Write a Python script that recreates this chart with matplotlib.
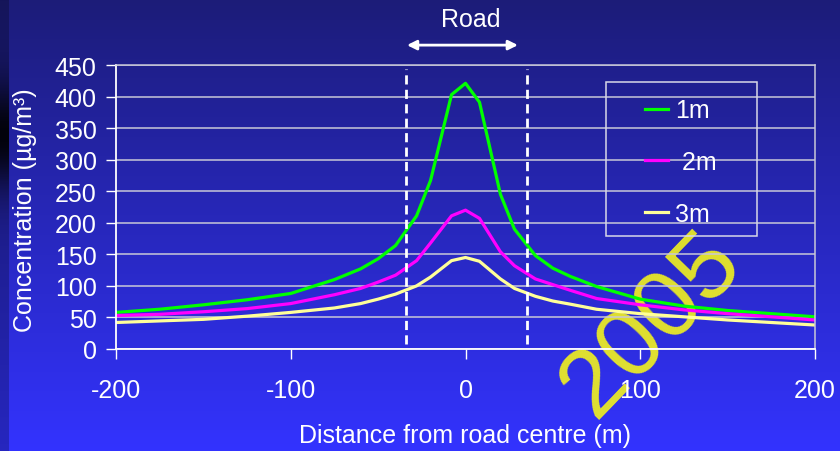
import numpy as np
import matplotlib.pyplot as plt
from matplotlib.patches import Rectangle

plt.rcParams["font.family"] = ["Liberation Sans", "DejaVu Sans"]
plt.rcParams["axes.unicode_minus"] = False

# distance from road centre (m)
distance = [-200, -175, -150, -125, -100, -75, -60, -50, -40, -28, -20, -8, 0,
            8, 20, 28, 40, 50, 60, 75, 100, 125, 150, 175, 200]

conc_1m = [58, 63, 70, 78, 88, 110, 127, 143, 164, 211, 267, 403, 421,
           391, 245, 190, 148, 128, 115, 99, 79, 68, 61, 56, 51]
conc_2m = [53, 55, 59, 64, 72, 86, 96, 106, 117, 140, 168, 211, 220,
           207, 154, 132, 111, 102, 93, 80, 70, 62, 56, 51, 46]
conc_3m = [42, 44.5, 47, 52, 58, 65, 72, 79, 87, 100, 114, 140, 145,
           139, 111, 96, 83.5, 76, 71, 63, 56, 51, 46, 42, 38]

road_edges = [-34, 35]
y_ticks = list(range(0, 451, 50))
x_ticks = [-200, -100, 0, 100, 200]

fig = plt.figure(figsize=(8.4, 4.52), dpi=100)

# background gradient
bg = fig.add_axes([0, 0, 1, 1], zorder=-5)
top = np.array([0x1c, 0x1c, 0x78]) / 255
bot = np.array([0x33, 0x33, 0xff]) / 255
t = np.linspace(0, 1, 256)[:, None]
grad = top + (bot - top) * t
bg.imshow(grad[:, None, :], aspect="auto", extent=[0, 1, 0, 1])
strip = fig.add_axes([0, 0, 9 / 840, 1], zorder=-4)
s = np.linspace(0, 1, 256)
dark = np.exp(-((s - 0.3) / 0.12) ** 2)
col = grad[:, :] * (1 - 0.9 * dark[:, None]) * 0.75
strip.imshow(col[:, None, :], aspect="auto", extent=[0, 1, 0, 1])
for a in (bg, strip):
    a.axis("off")

# watermark
fig.text(0.775, 0.28, "2005", color="#f0f020", alpha=0.92, fontsize=70,
         rotation=46, ha="center", va="center", zorder=-3)

ax = fig.add_axes([116 / 840, 1 - 350 / 452, 699 / 840, 284 / 452])
ax.patch.set_alpha(0)

ax.plot(distance, conc_1m, color="#00ff00", lw=2.3, label="1m")
ax.plot(distance, conc_2m, color="#ff00ff", lw=2.3, label=" 2m")
ax.plot(distance, conc_3m, color="#ffff99", lw=2.3, label="3m")

ax.vlines(road_edges, 8, 443, colors="white", linestyles=(0, (3.3, 1.9)), lw=2)

ax.set_xlim(-200, 200)
ax.set_ylim(0, 450)
ax.set_xticks(x_ticks)
ax.set_yticks(y_ticks)
ax.grid(axis="y", color="#c8c8d8", lw=1.1)
ax.set_axisbelow(True)
for side in ["top", "right"]:
    ax.spines[side].set_color("#c8c8d8")
    ax.spines[side].set_linewidth(1.1)
for side in ["left", "bottom"]:
    ax.spines[side].set_color("white")
    ax.spines[side].set_linewidth(1.3)
ax.tick_params(colors="white", labelsize=18, length=7, width=1)
ax.tick_params(axis="x", pad=14)
ax.tick_params(axis="y", pad=7)

fig.text(0.03, 0.535, "Concentration (µg/m³)", color="white", fontsize=18,
         rotation=90, ha="center", va="center")
fig.text(0.554, 0.035, "Distance from road centre (m)", color="white",
         fontsize=18, ha="center", va="center")

# road marker
fig.text(0.56, 0.955, "Road", color="white", fontsize=18, ha="center", va="center")
ax.annotate("", xy=(-33.5, 1.07), xytext=(30, 1.07),
            xycoords=("data", "axes fraction"), textcoords=("data", "axes fraction"),
            arrowprops=dict(arrowstyle="<|-|>", color="white", lw=2,
                            mutation_scale=14, shrinkA=0, shrinkB=0),
            annotation_clip=False)

# legend
fig.patches.append(Rectangle((606 / 840, 1 - 237 / 452), 151 / 840, 154 / 452,
                             transform=fig.transFigure, fill=False,
                             edgecolor="#d8d8e8", lw=1.1))
leg = fig.legend(loc="center", bbox_to_anchor=(681 / 840, 1 - 163 / 452),
                 frameon=False, fontsize=18, labelcolor="white",
                 handlelength=0.9, handletextpad=0.3, labelspacing=1.1)

fig.savefig("out.png", dpi=100)
